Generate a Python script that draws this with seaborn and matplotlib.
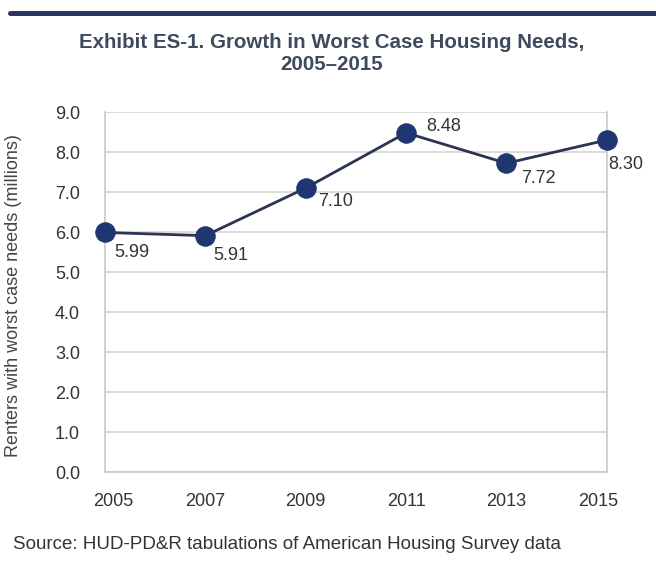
import matplotlib
matplotlib.use("Agg")
import matplotlib.pyplot as plt
import matplotlib.transforms as mtrans
import seaborn as sns
import pandas as pd
from matplotlib.lines import Line2D

years = [2005, 2007, 2009, 2011, 2013, 2015]
renters = [5.99, 5.91, 7.10, 8.48, 7.72, 8.30]
labels = ["5.99", "5.91", "7.10", "8.48", "7.72", "8.30"]
yticks = [0.0, 1.0, 2.0, 3.0, 4.0, 5.0, 6.0, 7.0, 8.0, 9.0]

sns.set_theme(style="white")
plt.rcParams['font.family'] = ['Liberation Sans', 'DejaVu Sans']

df = pd.DataFrame({"year": years, "renters": renters})

fig = plt.figure(figsize=(6.56, 5.73), dpi=100)
ax = fig.add_axes([0.160, 0.176, 0.765, 0.6285])

sns.lineplot(data=df, x="year", y="renters", ax=ax, color="#2b3450", lw=2,
             marker="o", markersize=14, markerfacecolor="#1f3670",
             markeredgecolor="#1f3670", zorder=5, clip_on=False)

ax.set_xlim(2005, 2015)
ax.set_ylim(0, 9)
ax.set_yticks(yticks)
ax.set_yticklabels([f"{v:.1f}" for v in yticks], fontsize=13, color="#333333")
ax.set_xticks(years)
ax.set_xticklabels([str(y) for y in years], fontsize=13, color="#333333")
ax.set_xticks(range(2005, 2016), minor=True)
ax.tick_params(axis="x", which="both", length=4, width=1.2, color="#c0c0c0",
               direction="out", pad=11)
ax.tick_params(axis="y", length=11, width=1.2, color="#d4d4d4", direction="out", pad=7)
ax.yaxis.grid(True, color="#d4d4d4", lw=1.2)
ax.set_axisbelow(True)
for s in ["left", "right", "bottom"]:
    ax.spines[s].set_color("#c8c8c8")
    ax.spines[s].set_linewidth(1.2)
ax.spines["top"].set_visible(False)

# nudge edge tick labels inward as in the reference
xtl = ax.get_xticklabels()
xtl[0].set_transform(xtl[0].get_transform() + mtrans.ScaledTranslation(8 / 100, 0, fig.dpi_scale_trans))
xtl[-1].set_transform(xtl[-1].get_transform() + mtrans.ScaledTranslation(-9 / 100, 0, fig.dpi_scale_trans))

ax.set_xlabel("")
ax.set_ylabel("Renters with worst case needs (millions)", fontsize=13, color="#444444")
ax.yaxis.set_label_coords(-0.165, 0.49)

offsets = [(6.5, -14.4), (5.8, -14.4), (8.6, -10.0), (14.4, 4.3), (10.8, -10.8), (0.7, -17.3)]
for x, y, t, (dx, dy) in zip(years, renters, labels, offsets):
    ax.annotate(t, (x, y), xytext=(dx, dy), textcoords="offset points",
                fontsize=13, color="#333333", ha="left", va="center")

fig.add_artist(Line2D([0.015, 1.0], [0.977, 0.977], color="#2a3563", lw=3.6))
fig.text(0.505, 0.925, "Exhibit ES-1. Growth in Worst Case Housing Needs,",
         ha="center", va="center", fontsize=14.8, fontweight="bold", color="#3f4a5e")
fig.text(0.505, 0.888, "2005\u20132015", ha="center", va="center",
         fontsize=14.8, fontweight="bold", color="#3f4a5e")
fig.text(0.02, 0.049, "Source: HUD-PD&R tabulations of American Housing Survey data",
         ha="left", va="center", fontsize=13.5, color="#333333")

fig.savefig("out.png", dpi=100)
